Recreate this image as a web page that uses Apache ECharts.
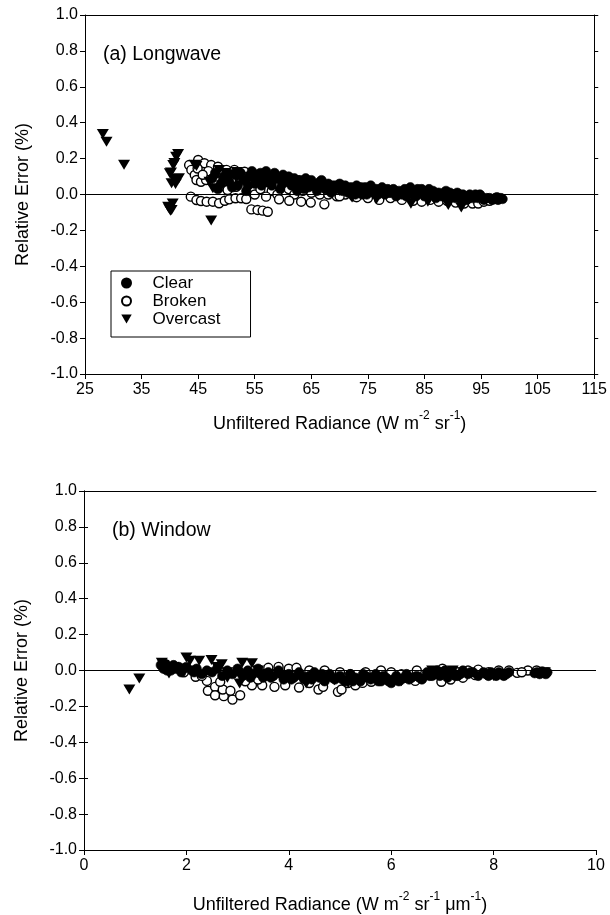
<!DOCTYPE html>
<html>
<head>
<meta charset="utf-8">
<script src="https://cdn.jsdelivr.net/npm/echarts@6/dist/echarts.min.js"></script>
<style>
html,body{margin:0;padding:0;background:#fff;}
#c{width:610px;height:915px;}
</style>
</head>
<body>
<div id="c"></div>
<script>
// ---------- data: panel (a) Longwave ----------
const lwClear = [[47.5,0.09],[48.5,0.03],[49.5,0.10],[50.5,0.07],[51.5,0.11],[52,0.05],[52.5,0.12],[53,0.08],[53.5,0.02],[54,0.10],[54.5,0.13],[55,0.06],[55.5,0.11],[56,0.12],[56.5,0.08],[57,0.13],[57.5,0.10],[58,0.05],[58.5,0.12],[59,0.09],[59.5,0.03],[60,0.11],[60.5,0.07],[61,0.10],[61.5,0.05],[62,0.09],[62.5,0.02],[63,0.08],[63.5,0.06],[64,0.09],[64.5,0.04],[65,0.08],[65.5,0.06],[66,0.02],[66.5,0.07],[67,0.05],[67.5,0.03],[68,0.06],[68.5,0.01],[69,0.05],[69.5,0.03],[70,0.06],[70.5,0.02],[71,0.05],[71.5,0.01],[72,0.04],[72.5,0.02],[73,0.05],[73.5,0.03],[74,0.00],[74.5,0.04],[75,0.02],[75.5,0.05],[76,0.01],[76.5,0.03],[77,0.02],[77.5,0.04],[78,0.00],[78.5,0.03],[79,0.01],[79.5,0.03],[80,-0.01],[80.5,0.02],[81,0.00],[81.5,0.03],[82,0.01],[82.5,0.04],[83,0.02],[83.5,-0.01],[84,0.01],[84.5,0.03],[85,-0.01],[85.5,0.02],[86,0.00],[86.5,0.02],[87,-0.02],[87.5,0.01],[88,-0.01],[88.5,0.01],[89,-0.02],[89.5,0.01],[90,0.00],[90.5,-0.02],[91,0.00],[91.5,-0.03],[92,-0.01],[92.5,-0.03],[93,0.00],[93.5,-0.02],[94,0.00],[94.5,-0.02],[95,-0.01],[95.5,-0.03],[96.5,-0.02],[97,-0.03],[97.5,-0.02],[98,-0.03],[98.5,-0.02],[98.8,-0.025],
  [48,0.12],[49,0.06],[50,0.09],[51,0.04],[53.8,0.05],[55.2,0.09],[56.2,0.05],[57.3,0.07],[58.8,0.10],[59.8,0.06],[60.8,0.09],[61.8,0.08],[62.8,0.05],[63.8,0.03],[64.8,0.06],[65.8,0.04],[66.8,0.08],[67.8,0.03],[68.8,0.03],[69.8,0.04],[70.8,0.04],[71.8,0.03],[72.8,0.00],[73.8,0.04],[74.8,0.00],[75.8,0.03],[76.8,0.00],[77.8,0.02],[78.8,0.01],[79.8,0.02],[80.8,0.01],[81.8,-0.01],[82.8,0.00],[83.8,0.03],[84.8,0.01],[85.8,0.03],[86.8,0.01],[87.8,0.00],[88.8,0.02],[89.8,-0.01],[90.8,0.01],[91.8,0.00],[92.8,-0.02],[93.8,-0.01],[94.8,0.00],[96,-0.02],[97.8,-0.015]];
const lwBroken = [[43.4,0.164],[45.0,0.192],[46.1,0.174],[47.3,0.164],[48.5,0.155],[50.0,0.137],[51.4,0.137],[53.2,0.127],[43.8,0.137],[44.4,0.109],[44.7,0.081],[45.5,0.071],[46.4,0.081],[47.3,0.099],[48.2,0.071],[48.9,0.044],[49.4,0.071],[50.2,0.025],[51.7,0.043],[52.5,0.09],[54,0.06],[55,0.0],[56,0.03],[57,0.07],[58,0.02],[59,0.0],[60,0.06],[61,0.03],[62,0.0],[63.5,0.02],[65,0.01],[66.5,0.0],[68,0.0],[69.5,-0.01],[71,0.0],[72.5,-0.01],[43.7,-0.012],[44.7,-0.031],[45.5,-0.036],[46.5,-0.04],[47.6,-0.04],[48.7,-0.049],[49.7,-0.035],[50.5,-0.027],[51.6,-0.021],[52.6,-0.021],[53.5,-0.025],[54.4,-0.083],[55.5,-0.086],[56.4,-0.09],[57.3,-0.096],[57,-0.012],[59.3,-0.027],[61.1,-0.035],[63.2,-0.04],[64.9,-0.045],[67.3,-0.055],[70,-0.01],[73,-0.015],[75,-0.02],[77,-0.03],[79,-0.02],[81,-0.03],[83,-0.035],[84.5,-0.04],[86,-0.03],[87.5,-0.04],[89,-0.035],[90.5,-0.045],[92,-0.05],[93.5,-0.05],[94.5,-0.05],[95.5,-0.04],[96.5,-0.035],
  [44.9,0.145],[46.8,0.13],[49.3,0.11],[52.2,0.115],[45.8,0.11],[50.8,0.08],[53.8,0.10]];
const lwOvercast = [[28.15,0.337],[28.8,0.294],[31.9,0.166],[41.45,0.225],[41.1,0.21],[40.8,0.175],[40.6,0.164],[40.2,0.123],[40.0,0.118],[40.7,0.086],[41.4,0.086],[41.6,0.09],[40.3,0.062],[41.0,0.058],[39.7,-0.068],[40.1,-0.091],[40.3,-0.086],[40.5,-0.05],[39.9,-0.08],[47.3,-0.145],[44.4,0.166],[44.7,0.159],[47.0,0.071],[48.7,0.136],[50.85,0.113],[52,0.10],[56.7,0.095],[58.5,0.07],[60.1,0.048],[62,0.08],[64,0.06],[66,0.05],[68,0.03],[70,0.02],[72.2,-0.017],[74,0.02],[76.5,-0.026],[78,0.0],[80,-0.01],[82.6,-0.052],[85.6,-0.04],[87,-0.01],[89.2,-0.058],[91.5,-0.073],[94,-0.02],
  [49.8,0.12],[51.8,0.125],[47.6,0.035],[54.5,0.09]];

// ---------- data: panel (b) Window ----------
const wnClear = [[1.5,0.03],[1.55,0.01],[1.6,0.035],[1.65,0.02],[1.7,0.0],[1.75,0.03],[1.8,0.01],[1.85,0.02],[1.9,-0.01],[2.0,0.02],[2.1,0.0],[2.2,0.01],[2.3,-0.02],[2.4,0.0],[2.5,-0.01],[2.6,0.01],[2.7,-0.03],[2.8,0.0],[2.9,-0.02],[3.0,0.01],[3.1,-0.03],[3.2,0.0],[3.3,-0.02],[3.4,0.01],[3.5,-0.04],[3.6,-0.01],[3.7,-0.03],[3.8,0.0],[3.9,-0.05],[4.0,-0.02],[4.1,-0.04],[4.2,-0.01],[4.3,-0.05],[4.4,-0.03],[4.5,-0.01],[4.6,-0.04],[4.7,-0.06],[4.8,-0.02],[4.9,-0.05],[5.0,-0.03],[5.1,-0.06],[5.2,-0.02],[5.3,-0.04],[5.4,-0.06],[5.5,-0.03],[5.6,-0.05],[5.7,-0.02],[5.8,-0.06],[5.9,-0.04],[6.0,-0.07],[6.1,-0.03],[6.2,-0.05],[6.3,-0.02],[6.4,-0.04],[6.5,-0.03],[6.6,-0.05],[6.7,-0.01],[6.8,-0.03],[6.9,0.0],[7.0,-0.02],[7.1,-0.04],[7.2,-0.01],[7.3,-0.03],[7.4,0.0],[7.5,-0.02],[7.6,-0.01],[7.7,-0.03],[7.8,-0.01],[7.9,-0.03],[8.0,-0.02],[8.1,-0.01],[8.2,-0.03],[8.3,-0.01],[8.85,-0.01],[8.9,-0.02],[8.95,-0.005],[9.0,-0.015],[9.05,-0.01],
  [1.62,0.0],[1.95,0.01],[2.15,-0.01],[3.05,-0.01],[3.25,-0.04],[3.45,-0.02],[3.65,-0.04],[3.85,-0.02],[4.05,-0.05],[4.25,-0.03],[4.45,-0.05],[4.65,-0.02],[4.85,-0.04],[5.05,-0.05],[5.25,-0.06],[5.45,-0.02],[5.65,-0.04],[5.75,-0.06],[5.85,-0.03],[5.95,-0.06],[6.05,-0.05],[6.15,-0.06],[6.25,-0.04],[6.35,-0.05],[6.55,-0.04],[6.75,-0.03],[6.85,-0.02],[6.95,-0.03],[7.05,0.0],[7.15,-0.02],[7.25,-0.03],[7.35,-0.02],[7.55,-0.01],[7.85,-0.02],[7.95,-0.01],[8.05,-0.03],[8.15,-0.02],[8.25,-0.02],[8.8,-0.015],[9.02,-0.02]];
const wnBroken = [[2.18,-0.035],[2.40,-0.058],[2.42,-0.113],[2.56,-0.091],[2.56,-0.138],[2.73,-0.143],[2.71,-0.106],[2.90,-0.162],[2.86,-0.113],[3.05,-0.138],[2.66,-0.063],[3.28,-0.082],[3.48,-0.082],[3.72,-0.091],[3.93,-0.082],[4.2,-0.095],[4.58,-0.106],[4.67,-0.091],[4.96,-0.119],[5.03,-0.106],[5.30,-0.082],[5.44,-0.069],[5.61,-0.063],[6.47,-0.058],[6.6,-0.045],[6.98,-0.063],[7.16,-0.05],[7.64,-0.026],[8.46,-0.013],[8.67,0.0],[8.84,0.0],[1.95,-0.01],[3.6,0.015],[3.8,0.02],[4.0,0.01],[4.15,0.015],[4.4,0.0],[4.7,0.0],[5.0,-0.01],[5.2,-0.02],[5.5,-0.01],[5.8,0.0],[6.0,-0.01],[6.2,-0.02],[6.5,0.0],[6.8,-0.01],[7.0,0.01],[7.3,-0.01],[7.5,0.0],[7.7,0.005],[7.9,-0.01],[8.1,0.0],[8.3,0.0],[8.55,-0.01],[2.3,-0.03],[3.15,-0.06],[3.4,-0.05],[4.4,-0.07],[5.15,-0.07],[5.8,-0.05],[6.3,-0.04],[7.4,-0.04]];
const wnOvercast = [[0.886,-0.106],[1.08,-0.045],[1.52,0.043],[1.59,0.02],[1.66,-0.017],[1.55,0.03],[1.75,0.02],[1.85,0.01],[2.0,0.073],[2.07,0.054],[2.25,0.054],[2.49,0.058],[2.69,0.035],[2.6,0.02],[2.8,-0.01],[3.09,0.043],[3.28,0.04],[3.04,-0.073],[2.8,-0.04],[3.4,0.0],[3.6,-0.02],[3.9,-0.03],[4.34,-0.073],[4.5,-0.03],[4.89,-0.054],[5.16,-0.069],[5.5,-0.04],[5.92,-0.054],[6.2,-0.06],[6.8,0.0],[7.0,-0.01],[7.2,0.0],[7.5,-0.02],[8.0,-0.03],[8.2,-0.02],[8.9,-0.02],[9.0,-0.01]];

const seriesNames = ['Clear','Broken','Overcast'];
const panelLabels = ['(a) Longwave','(b) Window'];
const yTitle = 'Relative Error (%)';

const FONT = 'Liberation Sans, Arial, Helvetica, sans-serif';
const TRI = 'path://M0,0L10,0L5,8.6Z';

const chart = echarts.init(document.getElementById('c'), null, {renderer:'canvas'});

function yAxes(gi){
  return [{
    type:'value', gridIndex:gi, min:-1, max:1, interval:0.2, position:'left',
    name: yTitle, nameLocation:'middle', nameGap:53, nameRotate:90,
    nameTextStyle:{fontFamily:FONT, fontSize:18, color:'#000'},
    axisLine:{show:true, lineStyle:{color:'#000', width:1}},
    axisTick:{show:true, inside:false, length:5, lineStyle:{color:'#000'}},
    axisLabel:{fontFamily:FONT, fontSize:16, color:'#000', margin:7, formatter:v=>v.toFixed(1)},
    splitLine:{show:false}
  },{
    type:'value', gridIndex:gi, min:-1, max:1, interval:0.2, position:'right',
    axisLine:{show:true, lineStyle:{color:'#000', width:1}},
    axisTick:{show:true, inside:false, length:4, lineStyle:{color:'#000'}},
    axisLabel:{show:false}, splitLine:{show:false}
  }];
}
const richName = {
  a:{fontFamily:FONT, fontSize:18, color:'#000', lineHeight:23, verticalAlign:'bottom'},
  s:{fontFamily:FONT, fontSize:12, color:'#000', lineHeight:23, verticalAlign:'top'}
};
function xAxes(gi, min, max, interval, name, gap){
  return [{
    type:'value', gridIndex:gi, min:min, max:max, interval:interval, position:'bottom',
    name:name, nameLocation:'middle', nameGap:gap,
    nameTextStyle:{rich:richName},
    axisLine:{show:true, onZero:false, lineStyle:{color:'#000', width:1}},
    axisTick:{show:true, inside:false, length:5, lineStyle:{color:'#000'}},
    axisLabel:{fontFamily:FONT, fontSize:16, color:'#000', margin:8},
    splitLine:{show:false}
  },{
    type:'value', gridIndex:gi, min:min, max:max, interval:interval, position:'top',
    axisLine:{show:true, onZero:false, lineStyle:{color:'#000', width:1}},
    axisTick:{show:false}, axisLabel:{show:false}, splitLine:{show:false}
  }];
}

function mk(name, data, xi, yi, kind, withZero){
  const s = {
    name:name, type:'scatter', xAxisIndex:xi, yAxisIndex:yi, data:data,
    animation:false
  };
  if(kind==='clear'){
    s.symbol='circle'; s.symbolSize=9.5; s.z=3;
    s.itemStyle={color:'#000', borderColor:'#000', borderWidth:0.6, opacity:1};
  } else if(kind==='broken'){
    s.symbol='circle'; s.symbolSize=9; s.z=2;
    s.itemStyle={color:'#fff', borderColor:'#000', borderWidth:1.4, opacity:1};
  } else {
    s.symbol=TRI; s.symbolSize=[12,10]; s.z=4;
    s.itemStyle={color:'#000', opacity:1};
  }
  if(withZero){
    s.markLine={silent:true, symbol:'none', animation:false, label:{show:false},
      lineStyle:{color:'#000', width:1, type:'solid', opacity:1}, data:[{yAxis:0}]};
  }
  return s;
}

const option = {
  backgroundColor:'#fff',
  animation:false,
  grid:[
    {left:85, top:15, width:511, height:359},
    {left:84, top:491, width:512, height:359}
  ],
  xAxis:[
    ...xAxes(0, 25, 115, 10, '{a|Unfiltered Radiance (W m}{s|-2}{a| sr}{s|-1}{a|)}', 36),
    ...xAxes(1, 0, 10, 2, '{a|Unfiltered Radiance (W m}{s|-2}{a| sr}{s|-1}{a| \u03bcm}{s|-1}{a|)}', 41)
  ],
  yAxis:[...yAxes(0), ...yAxes(1)],
  title:[
    {text:panelLabels[0], left:103, top:45, padding:0, textStyle:{fontFamily:FONT, fontSize:19.5, fontWeight:'normal', color:'#000', lineHeight:20}},
    {text:panelLabels[1], left:112, top:521, padding:0, textStyle:{fontFamily:FONT, fontSize:19.5, fontWeight:'normal', color:'#000', lineHeight:20}}
  ],
  legend:{
    data:seriesNames.map(n=>({name:n})),
    orient:'vertical', left:111, top:271,
    padding:[3,30,9,10], itemGap:0, itemWidth:42, itemHeight:9,
    borderColor:'#000', borderWidth:1, backgroundColor:'#fff',
    textStyle:{fontFamily:FONT, fontSize:17, color:'#000', lineHeight:18},
    selectedMode:false
  },
  series:[
    mk('Clear', lwClear, 0, 0, 'clear', true),
    mk('Broken', lwBroken, 0, 0, 'broken', false),
    mk('Overcast', lwOvercast, 0, 0, 'over', false),
    mk('Clear', wnClear, 2, 2, 'clear', true),
    mk('Broken', wnBroken, 2, 2, 'broken', false),
    mk('Overcast', wnOvercast, 2, 2, 'over', false)
  ]
};
chart.setOption(option);
</script>
</body>
</html>
